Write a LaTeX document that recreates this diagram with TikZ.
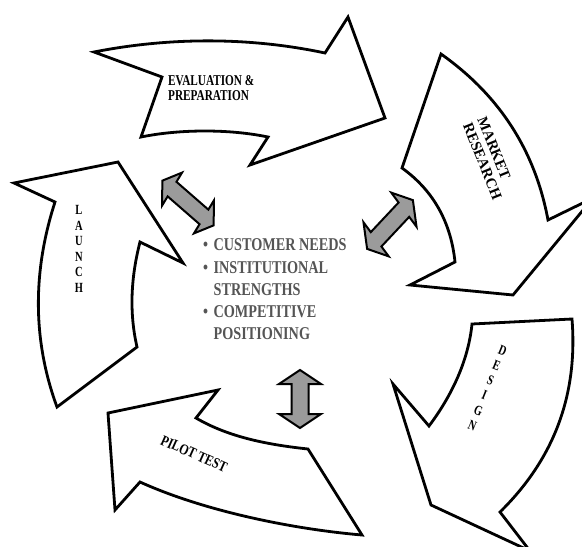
\documentclass[tikz,border=0pt]{standalone}
\usepackage{fontspec}
\setmainfont{Liberation Serif}
\definecolor{arrowgray}{RGB}{155,155,155}
\definecolor{textgray}{RGB}{85,85,85}
\tikzset{
  bigarrow/.style={draw=black, fill=white, line width=2.8pt, line join=miter, miter limit=25},
  dblarrow/.style={draw=black, fill=arrowgray, line width=2pt, line join=miter, miter limit=10},
  lbl/.style={inner sep=0pt, text=black, font=\bfseries\fontsize{15}{15.5}\selectfont},
  vlbl/.style={inner sep=0pt, text=black, font=\bfseries\fontsize{14}{15.5}\selectfont},
  listtext/.style={inner sep=0pt, text=textgray, font=\bfseries\fontsize{18}{22.3}\selectfont}
}
\begin{document}
\begin{tikzpicture}[x=1pt, y=-1pt]
\useasboundingbox (0,0) rectangle (582,547);
\fill[white] (0,0) rectangle (582,547);
\clip (0,0) rectangle (582,547);

% EVALUATION & PREPARATION
\draw[bigarrow] (94,52) .. controls (170,37) and (250,37) .. (325,53) -- (348,17) -- (385,118) -- (250,165) -- (268,137) .. controls (230,129) and (180,129) .. (141,137) -- (162,77) -- cycle;
% MARKET RESEARCH
\draw[bigarrow] (441,54) .. controls (499,95) and (535,150) .. (548,220) -- (593,198) -- (513,295) -- (410,285) -- (455,262) .. controls (451,223) and (434,191) .. (402,168) -- cycle;
% DESIGN
\draw[bigarrow] (472,324) -- (572,319) .. controls (578,395) and (554,459) .. (500,512) -- (530,551) -- (431,505) -- (393,384) -- (429,426) .. controls (453,394) and (468.5,359) .. (472,324) -- cycle;
% PILOT TEST
\draw[bigarrow] (108,413) -- (115,510) -- (140,482) .. controls (204,511) and (292,529) .. (362,535) -- (308,449) .. controls (271,445) and (230,438) .. (196,418) -- (218,390) -- cycle;
% LAUNCH
\draw[bigarrow] (118,162) -- (183,263) -- (140,242) .. controls (131,277) and (129,312) .. (137,347) -- (57,407) .. controls (32,339) and (33,270) .. (55,202) -- (14,183) -- cycle;

% gray double arrows
\begin{scope}[shift={(188,203)}, yscale=1.2, rotate=-36]
\draw[dblarrow] (31.7,0) -- (19.7,17) -- (19.7,7.5) -- (-19.7,7.5) -- (-19.7,17) -- (-31.7,0) -- (-19.7,-17) -- (-19.7,-7.5) -- (19.7,-7.5) -- (19.7,-17) -- cycle;
\end{scope}
\begin{scope}[shift={(390,224.5)}, yscale=1.2, rotate=41.6]
\draw[dblarrow] (30.6,0) -- (18.6,19) -- (18.6,8) -- (-18.6,8) -- (-18.6,19) -- (-30.6,0) -- (-18.6,-19) -- (-18.6,-8) -- (18.6,-8) -- (18.6,-19) -- cycle;
\end{scope}
\begin{scope}[shift={(300,399)}, rotate=90]
\draw[dblarrow] (29,0) -- (15,21) -- (15,8.5) -- (-15,8.5) -- (-15,21) -- (-29,0) -- (-15,-21) -- (-15,-8.5) -- (15,-8.5) -- (15,-21) -- cycle;
\end{scope}

% labels
\node[lbl, xscale=0.75, anchor=base west] (eval) at (168,85) {\begin{tabular}[t]{@{}l@{}}EVALUATION \&\\PREPARATION\end{tabular}};
\node[lbl, rotate=-68, xscale=0.97] (market) at (488,159) {\begin{tabular}{@{}l@{}}MARKET\\RESEARCH\end{tabular}};
\node[vlbl, xscale=0.75] (launch) at (79,250.5) {\begin{tabular}{@{}c@{}}L\\A\\U\\N\\C\\H\end{tabular}};
\node[vlbl, font=\bfseries\fontsize{14}{16.2}\selectfont, rotate=-22, xscale=0.75] (design) at (487,389) {\begin{tabular}{@{}c@{}}D\\E\\S\\I\\G\\N\end{tabular}};
\node[lbl, rotate=-24, xscale=0.8] (pilot) at (194,454) {PILOT TEST};

% centre list
\node[listtext, xscale=0.79, anchor=base west] (needs) at (203,250.7) {\begin{tabular}[t]{@{}l@{\hspace{7pt}}l@{}}\textbullet & CUSTOMER NEEDS\\ \textbullet & INSTITUTIONAL\\ & STRENGTHS\\ \textbullet & COMPETITIVE\\ & POSITIONING\end{tabular}};
\end{tikzpicture}
\end{document}
